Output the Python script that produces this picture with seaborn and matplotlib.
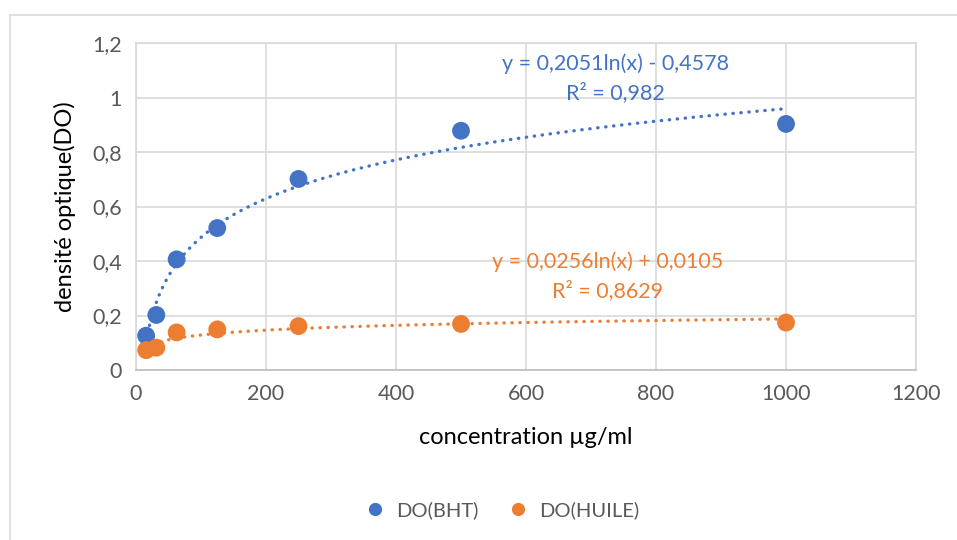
import numpy as np
import pandas as pd
import matplotlib
matplotlib.use("Agg")
import matplotlib.pyplot as plt
import seaborn as sns
from matplotlib.patches import Rectangle
from matplotlib.lines import Line2D

# ---- data ----
concentration = [15.625, 31.25, 62.5, 125, 250, 500, 1000]
do_bht = [0.126, 0.202, 0.406, 0.521, 0.701, 0.878, 0.903]
do_huile = [0.073, 0.082, 0.138, 0.149, 0.161, 0.169, 0.174]
series_names = ["DO(BHT)", "DO(HUILE)"]
# logarithmic trendline coefficients (slope, intercept) shown on chart
trend_bht = (0.2051, -0.4578)
trend_huile = (0.0256, 0.0105)
eq_bht = ["y = 0,2051ln(x) - 0,4578", "R² = 0,982"]
eq_huile = ["y = 0,0256ln(x) + 0,0105", "R² = 0,8629"]
x_ticks = [0, 200, 400, 600, 800, 1000, 1200]
y_ticks = [0, 0.2, 0.4, 0.6, 0.8, 1.0, 1.2]
y_tick_labels = ["0", "0,2", "0,4", "0,6", "0,8", "1", "1,2"]

colors = {"DO(BHT)": "#4472C4", "DO(HUILE)": "#ED7D31"}

df = pd.DataFrame({
    "concentration": concentration * 2,
    "DO": do_bht + do_huile,
    "serie": [series_names[0]] * len(do_bht) + [series_names[1]] * len(do_huile),
})

xt = np.linspace(min(concentration), max(concentration), 300)
trend_df = pd.DataFrame({
    "concentration": np.concatenate([xt, xt]),
    "DO": np.concatenate([trend_bht[0] * np.log(xt) + trend_bht[1],
                          trend_huile[0] * np.log(xt) + trend_huile[1]]),
    "serie": [series_names[0]] * len(xt) + [series_names[1]] * len(xt),
})

sns.set_theme(style="white")
plt.rcParams['font.family'] = ['Lato', 'DejaVu Sans']

fig = plt.figure(figsize=(9.57, 5.40), dpi=100)
ax = fig.add_axes([136 / 957, 1 - 370 / 540, (916 - 136) / 957, (370 - 43) / 540])

for name in series_names:
    sub = trend_df[trend_df["serie"] == name]
    ax.plot(sub["concentration"], sub["DO"], color=colors[name], lw=2.4,
            linestyle=(0, (0.1, 2.3)), dash_capstyle="round", zorder=2)

sns.scatterplot(data=df, x="concentration", y="DO", hue="serie", palette=colors,
                s=165, edgecolor="none", ax=ax, legend=False, zorder=3)

ax.set_xlim(0, 1200)
ax.set_ylim(0, 1.2)
ax.set_xticks(x_ticks)
ax.set_yticks(y_ticks)
ax.set_yticklabels(y_tick_labels)
ax.grid(True, color="#D9D9D9", lw=1.2)
ax.set_axisbelow(True)
for s in ax.spines.values():
    s.set_color("#D9D9D9")
    s.set_linewidth(1.2)
ax.spines["bottom"].set_color("#BFBFBF")
ax.tick_params(axis="both", length=0, labelsize=15.5, labelcolor="#595959", pad=10)
ax.set_xlabel("concentration µg/ml", fontsize=17, color="black", labelpad=17)
ax.set_ylabel("densité optique(DO)", fontsize=17, color="black", labelpad=12)

ax.text(738, 1.123, eq_bht[0], color=colors["DO(BHT)"], fontsize=15.5, ha="center", va="center")
ax.text(738, 1.017, eq_bht[1], color=colors["DO(BHT)"], fontsize=15.5, ha="center", va="center")
ax.text(726, 0.396, eq_huile[0], color=colors["DO(HUILE)"], fontsize=15.5, ha="center", va="center")
ax.text(726, 0.29, eq_huile[1], color=colors["DO(HUILE)"], fontsize=15.5, ha="center", va="center")

handles = [Line2D([], [], marker="o", linestyle="none", markersize=9.5,
                  markerfacecolor=colors[n], markeredgecolor="none") for n in series_names]
fig.legend(handles, series_names, loc="center", bbox_to_anchor=(497 / 957, 1 - 510 / 540),
           ncol=2, frameon=False, fontsize=14.5, handletextpad=0.05, columnspacing=1.0,
           labelcolor="#595959")

fig.patches.append(Rectangle((9.5 / 957, -0.1), 1.2, 1 - 14.5 / 540 + 0.1,
                             transform=fig.transFigure, fill=False,
                             edgecolor="#D9D9D9", lw=1.2))

fig.savefig("out.png", dpi=100, facecolor="white")
